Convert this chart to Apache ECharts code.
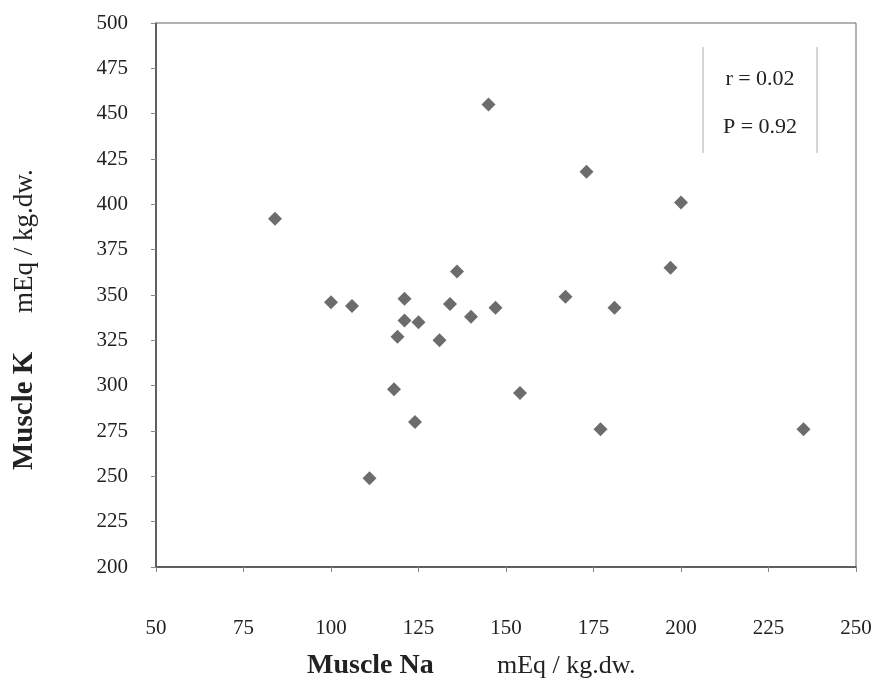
<!DOCTYPE html>
<html>
<head>
<meta charset="utf-8">
<script src="https://cdn.jsdelivr.net/npm/echarts@6/dist/echarts.min.js"></script>
<style>
html,body{margin:0;padding:0;background:#fff;}
#chart{width:878px;height:695px;}
</style>
</head>
<body>
<div id="chart"></div>
<script>
// Muscle Na (mEq / kg.dw.)
var muscleNa = [84, 100, 106, 111, 118, 119, 121, 121, 124, 125, 131, 134, 136, 140, 145, 147, 154, 167, 173, 177, 181, 197, 200, 235];
// Muscle K (mEq / kg.dw.)
var muscleK  = [392, 346, 344, 249, 298, 327, 348, 336, 280, 335, 325, 345, 363, 338, 455, 343, 296, 349, 418, 276, 343, 365, 401, 276];
var xTicks = [50, 75, 100, 125, 150, 175, 200, 225, 250];
var yTicks = [200, 225, 250, 275, 300, 325, 350, 375, 400, 425, 450, 475, 500];
var statLines = ['r = 0.02', 'P = 0.92'];
var xTitle = ['Muscle Na', 'mEq / kg.dw.'];
var yTitle = ['Muscle K', 'mEq / kg.dw.'];

var points = muscleNa.map(function (v, i) { return [v, muscleK[i]]; });
var serif = '"Liberation Serif", "DejaVu Serif", serif';
var chart = echarts.init(document.getElementById('chart'));
chart.setOption({
  animation: false,
  backgroundColor: '#ffffff',
  grid: { left: 156, top: 23, right: 22, bottom: 128, show: true, borderColor: '#666', borderWidth: 1, backgroundColor: 'transparent' },
  xAxis: {
    type: 'value', min: xTicks[0], max: xTicks[xTicks.length - 1], interval: 25,
    axisLine: { show: true, lineStyle: { color: '#444', width: 1.5 } },
    axisTick: { show: true, length: 5, lineStyle: { color: '#888' } },
    splitLine: { show: false },
    axisLabel: { margin: 51, fontFamily: serif, fontSize: 21, color: '#222' }
  },
  yAxis: {
    type: 'value', min: yTicks[0], max: yTicks[yTicks.length - 1], interval: 25,
    axisLine: { show: true, lineStyle: { color: '#444', width: 1.5 } },
    axisTick: { show: true, length: 5, lineStyle: { color: '#888' } },
    splitLine: { show: false },
    axisLabel: { margin: 28, fontFamily: serif, fontSize: 21, color: '#222' }
  },
  series: [{
    type: 'scatter',
    data: points,
    symbol: 'diamond',
    symbolSize: [14, 14],
    itemStyle: { color: '#474747' }
  }],
  graphic: [
    { type: 'line', shape: { x1: 703, y1: 47, x2: 703, y2: 153 }, style: { stroke: '#aaa', lineWidth: 1 } },
    { type: 'line', shape: { x1: 817, y1: 47, x2: 817, y2: 153 }, style: { stroke: '#aaa', lineWidth: 1 } },
    { type: 'text', x: 760, y: 79, style: { text: statLines[0], font: '22px ' + serif, fill: '#222', textAlign: 'center', textVerticalAlign: 'middle' } },
    { type: 'text', x: 760, y: 127, style: { text: statLines[1], font: '22px ' + serif, fill: '#222', textAlign: 'center', textVerticalAlign: 'middle' } },
    { type: 'text', x: 307, y: 666, style: { text: xTitle[0], font: 'bold 28px ' + serif, fill: '#222', textAlign: 'left', textVerticalAlign: 'middle' } },
    { type: 'text', x: 497, y: 666, style: { text: xTitle[1], font: '26px ' + serif, fill: '#222', textAlign: 'left', textVerticalAlign: 'middle' } },
    { type: 'text', x: 25, y: 470, rotation: Math.PI / 2, style: { text: yTitle[0], font: 'bold 29px ' + serif, fill: '#222', textAlign: 'left', textVerticalAlign: 'middle' } },
    { type: 'text', x: 25, y: 313, rotation: Math.PI / 2, style: { text: yTitle[1], font: '27px ' + serif, fill: '#222', textAlign: 'left', textVerticalAlign: 'middle' } }
  ]
});
</script>
</body>
</html>
